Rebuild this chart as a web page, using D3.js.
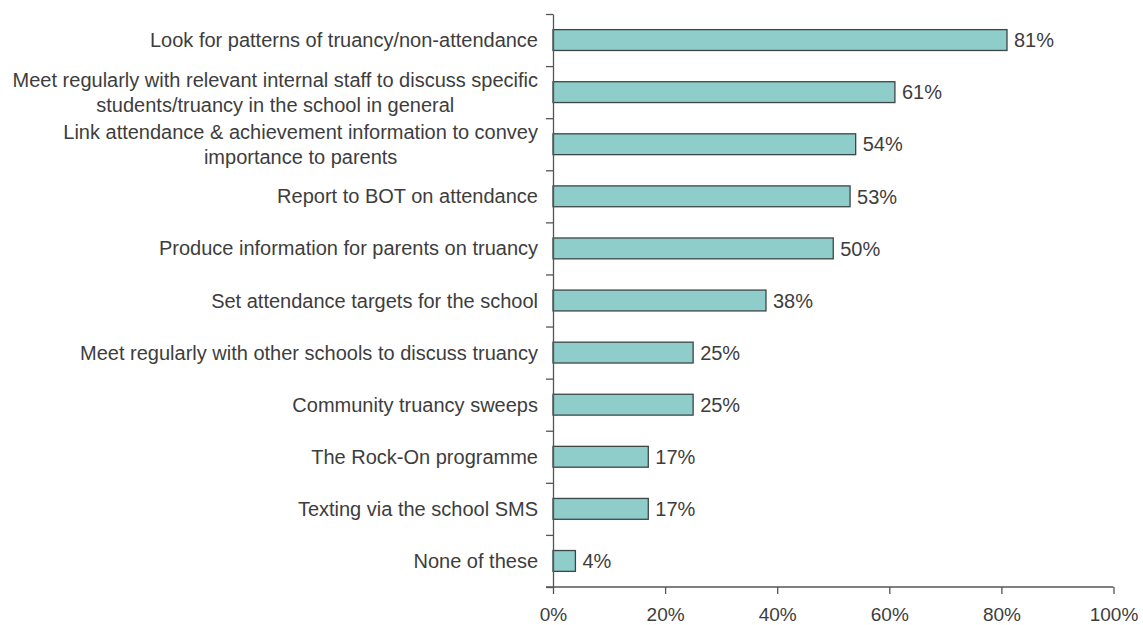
<!DOCTYPE html>
<html>
<head>
<meta charset="utf-8">
<script src="https://cdn.jsdelivr.net/npm/d3@7"></script>
<style>
  html, body { margin: 0; padding: 0; background: #fff; }
  svg { display: block; }
  text { font-family: "Liberation Sans", Arial, Helvetica, sans-serif; fill: #3d3d3d; }
</style>
</head>
<body>
<svg id="chart" width="1143" height="625"></svg>
<script>
// Survey responses: actions schools take on truancy (share of schools)
const categories = [
  ["Look for patterns of truancy/non-attendance"],
  ["Meet regularly with relevant internal staff to discuss specific", "students/truancy in the school in general"],
  ["Link attendance & achievement information to convey", "importance to parents"],
  ["Report to BOT on attendance"],
  ["Produce information for parents on truancy"],
  ["Set attendance targets for the school"],
  ["Meet regularly with other schools to discuss truancy"],
  ["Community truancy sweeps"],
  ["The Rock-On programme"],
  ["Texting via the school SMS"],
  ["None of these"]
];
const values = [81, 61, 54, 53, 50, 38, 25, 25, 17, 17, 4];
const xTicks = [0, 20, 40, 60, 80, 100];

const svg = d3.select("#chart");
const plotLeft = 553, plotRight = 1113.5, plotTop = 14, plotBottom = 587;

const x = d3.scaleLinear().domain([0, 100]).range([plotLeft, plotRight]);
const y = d3.scaleBand().domain(d3.range(categories.length)).range([plotTop, plotBottom]).paddingInner(0.6).paddingOuter(0.3);
const yEdge = d3.scaleLinear().domain([0, categories.length]).range([plotTop, plotBottom]);

const axisColor = "#555";

// bars
svg.append("g").selectAll("rect")
  .data(values)
  .join("rect")
  .attr("x", x(0))
  .attr("y", (d, i) => y(i))
  .attr("width", d => x(d) - x(0))
  .attr("height", y.bandwidth())
  .attr("fill", "#8ecdc9")
  .attr("stroke", "#3b4646")
  .attr("stroke-width", 1.3);

// value labels
svg.append("g").selectAll("text")
  .data(values)
  .join("text")
  .attr("x", d => x(d) + 7)
  .attr("y", (d, i) => y(i) + y.bandwidth() / 2)
  .attr("dy", "0.36em")
  .attr("font-size", 20)
  .text(d => d + "%");

// y axis with ticks at the boundaries between categories
const yAxis = svg.append("g")
  .attr("transform", `translate(${plotLeft},0)`)
  .call(d3.axisLeft(yEdge).tickValues(d3.range(categories.length + 1)).tickSize(7).tickSizeOuter(0).tickFormat(""));
yAxis.select(".domain").attr("stroke", axisColor).attr("stroke-width", 1.3);
yAxis.selectAll(".tick line").attr("stroke", axisColor).attr("stroke-width", 1.3);

// category labels: block right-aligned to the axis, lines centred within the block
const lineGap = 25;
const labelRight = plotLeft - 15;
const labels = svg.append("g");
categories.forEach((lines, i) => {
  const cy = y(i) + y.bandwidth() / 2;
  const t = labels.append("text")
    .attr("text-anchor", "middle")
    .attr("font-size", 20);
  const spans = lines.map((ln, k) => t.append("tspan")
    .attr("y", cy + (k - (lines.length - 1) / 2) * lineGap)
    .attr("dy", "0.35em")
    .text(ln));
  const widest = d3.max(spans, s => s.node().getComputedTextLength());
  spans.forEach(s => s.attr("x", labelRight - widest / 2));
});

// x axis
const xAxis = svg.append("g")
  .attr("transform", `translate(0,${plotBottom})`)
  .call(d3.axisBottom(x).tickValues(xTicks).tickSize(7).tickSizeOuter(0).tickPadding(14).tickFormat(d => d + "%"));
xAxis.select(".domain").attr("stroke", axisColor).attr("stroke-width", 1.3)
  .attr("d", `M${plotLeft - 7},0H${plotRight}`);
xAxis.selectAll(".tick line").attr("stroke", axisColor).attr("stroke-width", 1.3);
xAxis.selectAll(".tick text").attr("font-size", 19).attr("fill", "#3d3d3d")
  .style("font-family", '"Liberation Sans", Arial, sans-serif');
</script>
</body>
</html>
